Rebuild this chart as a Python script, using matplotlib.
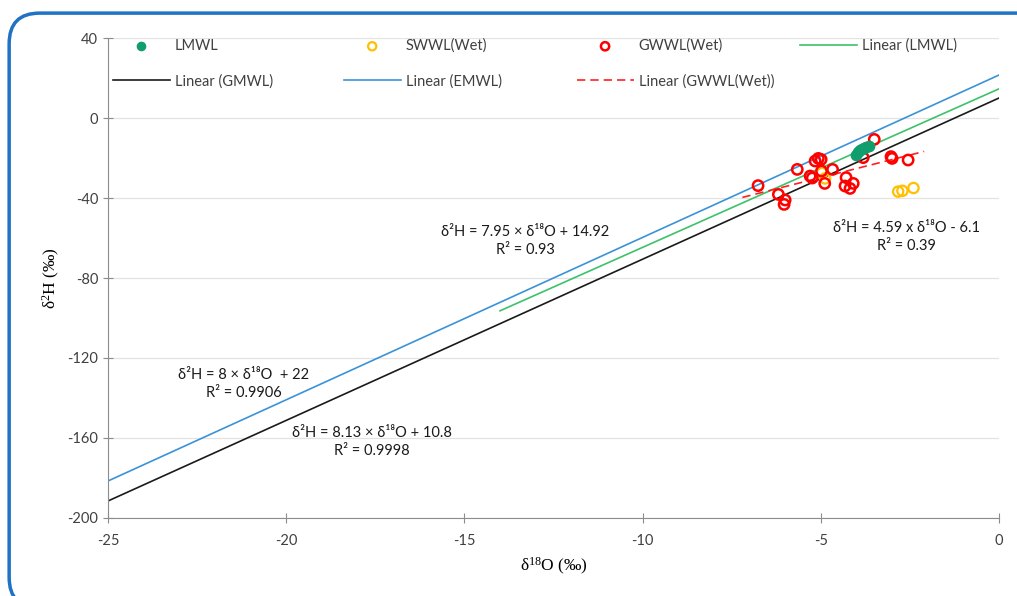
import numpy as np
import matplotlib.pyplot as plt
from matplotlib.patches import FancyBboxPatch

# LMWL 雨水样点
lmwl_o = [-4.00, -3.95, -3.90, -3.84, -3.78, -3.72, -3.65]
lmwl_h = [-18.5, -17.0, -16.2, -15.6, -15.0, -14.6, -14.2]

# SWWL(Wet) 地表水样点
swwl_o = [-4.97, -4.88, -2.83, -2.71, -2.40]
swwl_h = [-27.5, -30.2, -36.8, -36.4, -35.0]

# GWWL(Wet) 地下水样点
gwwl_o = [-6.76, -6.19, -6.00, -6.03, -5.66, -5.30, -5.24, -5.16, -5.07, -4.99,
          -4.98, -4.89, -4.67, -4.29, -4.32, -4.18, -4.09, -3.81, -3.50, -3.03,
          -3.00, -2.55]
gwwl_h = [-33.8, -38.2, -41.0, -43.2, -25.7, -29.0, -30.0, -21.5, -20.2, -20.7,
          -26.5, -32.7, -25.7, -29.8, -34.0, -35.2, -32.7, -19.8, -10.7, -19.3,
          -20.2, -21.0]

# 趋势线端点 (x, y)
lmwl_fit_x, lmwl_fit_y = [-14, 0], [-96.4, 14.6]
gmwl_x, gmwl_y = [-25, 0], [-191.5, 10.0]
emwl_x, emwl_y = [-25, 0], [-181.5, 21.5]
gwwl_fit_x, gwwl_fit_y = [-7.2, -2.1], [-39.7, -16.7]

plt.rcParams['font.family'] = ['Lato', 'DejaVu Sans']
plt.rcParams['axes.unicode_minus'] = False
plt.rcParams['mathtext.fontset'] = 'custom'
plt.rcParams['mathtext.rm'] = 'Liberation Serif'
plt.rcParams['mathtext.it'] = 'Liberation Serif'

fig = plt.figure(figsize=(10.17, 5.96), dpi=100)
ax = fig.add_axes([0.1062, 0.1309, 0.8761, 0.8053])

# 外框（圆角蓝色）
frame = FancyBboxPatch((0.009, -0.02), 1.05, 0.998, transform=fig.transFigure,
                       boxstyle='round,pad=0,rounding_size=0.03',
                       fill=False, edgecolor='#1f72c4', linewidth=2.5,
                       mutation_aspect=1017 / 596, clip_on=False)
fig.patches.append(frame)

ax.plot(lmwl_fit_x, lmwl_fit_y, color='#3cc26a', lw=1.2, label='Linear (LMWL)', zorder=2)
ax.plot(gmwl_x, gmwl_y, color='#1a1a1a', lw=1.2, label='Linear (GMWL)', zorder=2)
ax.plot(emwl_x, emwl_y, color='#3a93d8', lw=1.2, label='Linear (EMWL)', zorder=2)
ax.plot(gwwl_fit_x, gwwl_fit_y, color='#ff2020', lw=1.2, ls=(0, (5, 3)),
        label='Linear (GWWL(Wet))', zorder=2)

ax.scatter(lmwl_o, lmwl_h, s=55, color='#119e6e', label='LMWL', zorder=4)
ax.scatter(swwl_o, swwl_h, s=55, facecolors='none', edgecolors='#ffc000',
           linewidths=1.6, label='SWWL(Wet)', zorder=3)
ax.scatter(gwwl_o, gwwl_h, s=55, facecolors='none', edgecolors='#ff0000',
           linewidths=1.8, label='GWWL(Wet)', zorder=3)

ax.set_xlim(-25, 0)
ax.set_ylim(-200, 40)
ax.set_xticks(np.arange(-25, 1, 5))
ax.set_yticks(np.arange(-200, 41, 40))
ax.grid(axis='y', color='#e3e3e3', lw=0.9, zorder=0)
ax.set_axisbelow(True)
for s in ['top', 'right']:
    ax.spines[s].set_visible(False)
for s in ['left', 'bottom']:
    ax.spines[s].set_color('#8c8c8c')
ax.tick_params(direction='inout', length=7, color='#8c8c8c', labelsize=10.5,
               labelcolor='#404040')
ax.tick_params(axis='x', pad=8)

serif = ['Liberation Serif', 'DejaVu Serif']
ax.set_xlabel('δ$^{18}$O (‰)', family=serif, fontsize=12.5, labelpad=6)
ax.set_ylabel('δ$^{2}$H (‰)', family=serif, fontsize=12.5, labelpad=4)

# 方程标注
kw = dict(ha='center', va='center', fontsize=10.5, color='#1a1a1a', linespacing=1.4)
ax.text(-13.3, -61.5, 'δ²H = 7.95 × δ¹⁸O + 14.92\nR² = 0.93', **kw)
ax.text(-2.6, -59.5, 'δ²H = 4.59 x δ¹⁸O - 6.1\nR² = 0.39', **kw)
ax.text(-21.2, -133, 'δ²H = 8 × δ¹⁸O  + 22\nR² = 0.9906', **kw)
ax.text(-17.6, -162, 'δ²H = 8.13 × δ¹⁸O + 10.8\nR² = 0.9998', **kw)

# 图例：四列，每列单独放置
h, l = ax.get_legend_handles_labels()
hd = dict(zip(l, h))
cols = [['LMWL', 'Linear (GMWL)'],
        ['SWWL(Wet)', 'Linear (EMWL)'],
        ['GWWL(Wet)', 'Linear (GWWL(Wet))'],
        ['Linear (LMWL)']]
col_x = [0.111, 0.338, 0.567, 0.787]
for names, x0 in zip(cols, col_x):
    fig.legend([hd[k] for k in names], names, loc='upper left',
               bbox_to_anchor=(x0, 0.935), frameon=False, fontsize=10.5,
               handlelength=3.9, handletextpad=0.35, labelspacing=1.45,
               borderpad=0, borderaxespad=0, markerscale=0.8,
               labelcolor='#404040')

plt.savefig('out.png', dpi=100)
